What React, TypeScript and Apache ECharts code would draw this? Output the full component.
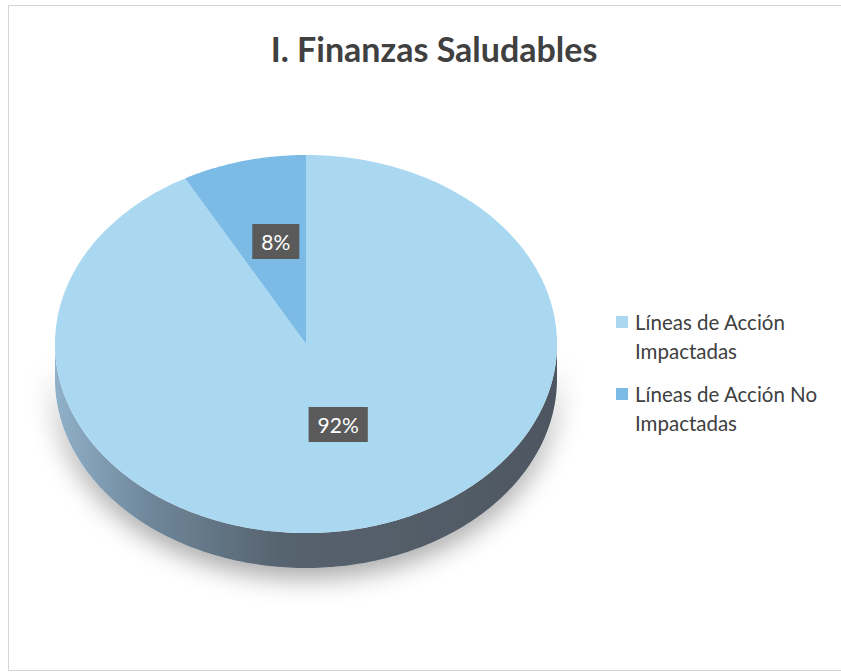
import React, { useEffect, useRef } from "react";
import * as echarts from "echarts";

const title = "I. Finanzas Saludables";
const categories = ["Líneas de Acción Impactadas", "Líneas de Acción No Impactadas"];
const values = [92, 8];
const topColors = ["#aad8f1", "#7dbbe7"];

// layout of the tilted pie
const CX = 306;
const CY = 344;
const RX = 251;
const RY = 189;
const DEPTH = 35;
const FONT = "Lato, 'Open Sans', sans-serif";

function pt(phi: number, dy = 0): number[] {
  const a = (phi * Math.PI) / 180;
  return [CX + RX * Math.sin(a), CY - RY * Math.cos(a) + dy];
}

function arc(from: number, to: number, dy = 0): number[][] {
  const out: number[][] = [];
  const n = Math.max(2, Math.ceil(Math.abs(to - from)));
  for (let i = 0; i <= n; i++) out.push(pt(from + ((to - from) * i) / n, dy));
  return out;
}

function makeRender(idx: number) {
  return (params: any, api: any) => {
    const total = values.reduce((s, v) => s + v, 0);
    const v = api.value(0);
    const start = (values.slice(0, idx).reduce((s, x) => s + x, 0) / total) * 360;
    const end = start + (v / total) * 360;
    const children: any[] = [];
    const s = Math.max(start, 90);
    const e = Math.min(end, 270);
    if (e > s) {
      const pts = arc(s, e, 0).concat(arc(e, s, DEPTH));
      children.push({
        type: "polygon",
        shape: { points: pts },
        style: {
          fill: {
            type: "linear",
            x: 0,
            y: 0,
            x2: 1,
            y2: 0,
            colorStops: [
              { offset: 0, color: "#90b1ca" },
              { offset: 0.18, color: "#70889c" },
              { offset: 0.45, color: "#56636f" },
              { offset: 1, color: "#4e5761" },
            ],
          },
          shadowBlur: 26,
          shadowColor: "rgba(0,0,0,0.35)",
          shadowOffsetY: 10,
        },
      });
    }
    const topPts = [[CX, CY]].concat(arc(start, end, 0));
    children.push({
      type: "polygon",
      shape: { points: topPts },
      style: { fill: topColors[idx] },
    });
    const mid = (start + end) / 2;
    const a = (mid * Math.PI) / 180;
    const lx = CX + 0.5 * RX * Math.sin(a);
    const ly = CY - 0.5 * RY * Math.cos(a) - 11;
    const pct = Math.round((v / total) * 100) + "%";
    children.push({
      type: "text",
      z2: 100,
      style: {
        text: pct,
        x: lx + 1,
        y: ly,
        align: "center",
        verticalAlign: "middle",
        fill: "#ffffff",
        font: "21px " + FONT,
        backgroundColor: "#5a5a5a",
        padding: [7, 9, 7, 9],
      },
    });
    return { type: "group", children };
  };
}

export default function App() {
  const ref = useRef<HTMLDivElement>(null);
  useEffect(() => {
    document.body.style.margin = "0";
    const chart = echarts.init(ref.current!, null, { renderer: "svg" });
    chart.setOption({
      animation: false,
      backgroundColor: "#ffffff",
      title: {
        text: title,
        left: 429,
        top: 26,
        textAlign: "center",
        textStyle: { fontFamily: FONT, fontSize: 34, fontWeight: "bold", color: "#404040" },
      },
      legend: {
        orient: "vertical",
        left: 616,
        top: 307,
        padding: 0,
        itemGap: 14,
        itemWidth: 12,
        itemHeight: 40,
        selectedMode: false,
        icon: "path://M0,0L12,0L12,12L0,12Z M0,40L0.01,40L0.01,40.01Z",
        data: categories,
        formatter: (name: string) => name.replace(/ (Impactadas)$/, "\n$1"),
        textStyle: { fontFamily: FONT, fontSize: 20.5, color: "#404040", lineHeight: 29, padding: [0, 0, 0, 2] },
      },
      graphic: [
        {
          type: "polyline",
          shape: { points: [[850, 5.5], [8.5, 5.5], [8.5, 670.5], [850, 670.5]] },
          style: { stroke: "#d4d4d4", lineWidth: 1, fill: null },
          silent: true,
        },
      ],
      series: categories.map((name, i) => ({
        type: "custom",
        name,
        coordinateSystem: "none",
        itemStyle: { color: topColors[i] },
        renderItem: makeRender(i),
        data: [[values[i]]],
      })),
    });
    return () => chart.dispose();
  }, []);
  return <div ref={ref} style={{ width: 841, height: 672 }} />;
}
